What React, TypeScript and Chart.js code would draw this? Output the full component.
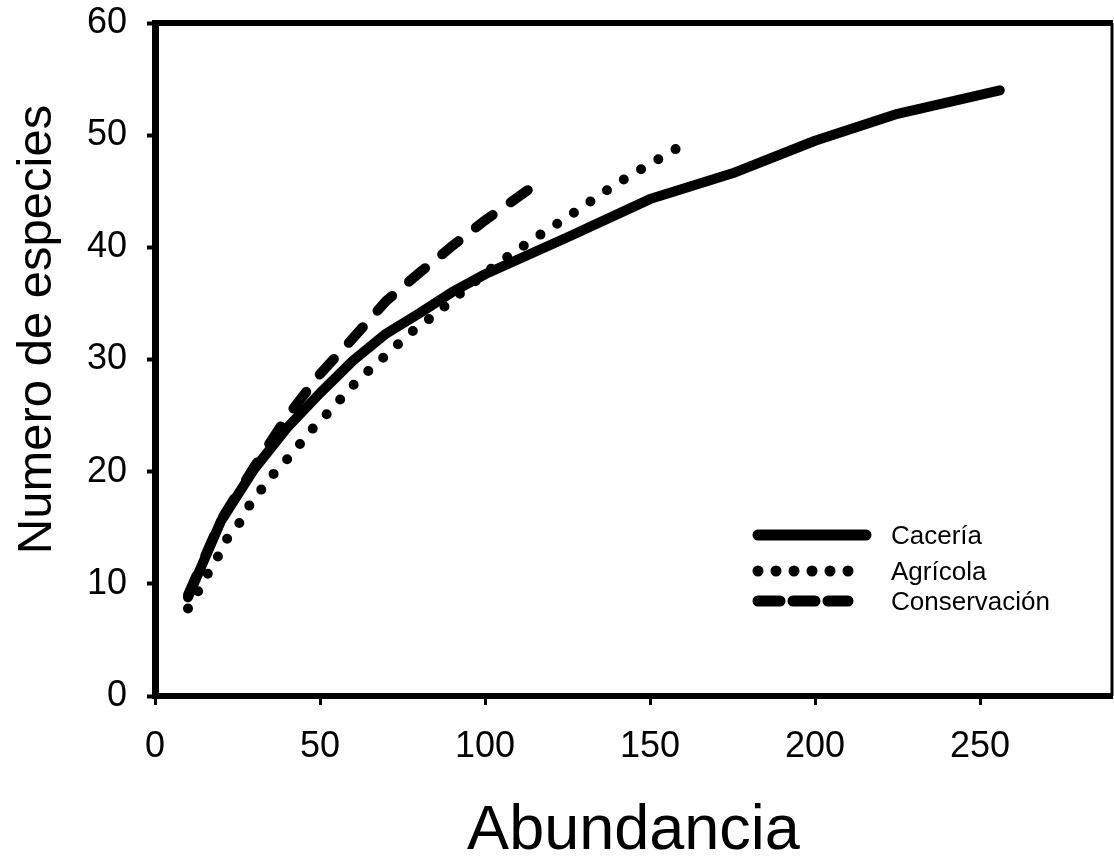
import React, { useEffect, useRef } from "react";
import { Chart, registerables } from "chart.js";

Chart.register(...registerables);

// ---- data ----
const caceriaX = [10, 20, 30, 40, 50, 60, 70, 80, 90, 100, 125, 150, 175, 200, 225, 256];
const caceriaY = [8.8, 15.6, 20.2, 23.9, 27.0, 29.9, 32.3, 34.1, 36.0, 37.6, 40.9, 44.3, 46.6, 49.5, 51.9, 54.0];

const agricolaX = [10, 13, 16, 19, 22, 26, 29, 33, 37, 42, 46, 51, 56, 61, 67, 72, 77, 83, 93, 104, 114, 125, 140, 158];
const agricolaY = [7.8, 9.3, 10.9, 12.4, 14.1, 15.6, 17.2, 18.7, 20.2, 21.7, 23.3, 24.8, 26.4, 28.0, 29.6, 30.9, 32.3, 33.6, 36.0, 38.6, 40.6, 42.7, 45.7, 48.8];

const conservacionX = [10, 20, 30, 40, 50, 60, 70, 80, 90, 100, 113];
const conservacionY = [9.0, 15.7, 20.4, 24.9, 28.7, 31.9, 35.2, 37.7, 40.1, 42.4, 45.1];

const seriesLabels = ["Cacería", "Agrícola", "Conservación"];
const xTicks = [0, 50, 100, 150, 200, 250];
const yTicks = [0, 10, 20, 30, 40, 50, 60];
const xTitle = "Abundancia";
const yTitle = "Numero de especies";

const FONT = "'Liberation Sans', Arial, Helvetica, sans-serif";

const toPts = (xs: number[], ys: number[]) => xs.map((x, i) => ({ x, y: ys[i] }));

const decorPlugin = {
  id: "decor",
  afterDatasetsDraw(chart: any) {
    const { ctx, chartArea: a } = chart;
    ctx.save();
    ctx.strokeStyle = "#000";
    ctx.fillStyle = "#000";
    // top and right frame
    ctx.lineCap = "butt";
    ctx.setLineDash([]);
    ctx.lineWidth = 6;
    ctx.beginPath();
    ctx.moveTo(a.left - 3, a.top);
    ctx.lineTo(a.right + 1, a.top);
    ctx.stroke();
    ctx.lineWidth = 3;
    ctx.beginPath();
    ctx.moveTo(a.right, a.top);
    ctx.lineTo(a.right, a.bottom);
    ctx.stroke();

    // legend
    const lx0 = 758;
    const lx1 = 866;
    const rows = [535, 571, 601];
    const styles = [
      { dash: [] as number[], end: lx1, w: 11 },
      { dash: [0, 18], end: 850, w: 11 },
      { dash: [22, 13], end: 848, w: 11 },
    ];
    ctx.lineCap = "round";
    rows.forEach((y, i) => {
      const s = styles[i];
      ctx.lineWidth = s.w;
      ctx.setLineDash(s.dash);
      ctx.beginPath();
      ctx.moveTo(lx0, y);
      ctx.lineTo(s.end, y);
      ctx.stroke();
      ctx.setLineDash([]);
      ctx.font = `26px ${FONT}`;
      ctx.textAlign = "left";
      ctx.textBaseline = "middle";
      ctx.fillText(seriesLabels[i], 891, y + 2);
    });

    // axis titles
    ctx.font = `63px ${FONT}`;
    ctx.textAlign = "center";
    ctx.textBaseline = "alphabetic";
    ctx.fillText(xTitle, (a.left + a.right) / 2, chart.height - 8);

    ctx.save();
    ctx.font = `49px ${FONT}`;
    ctx.translate(51, (a.top + a.bottom) / 2 - 30);
    ctx.rotate(-Math.PI / 2);
    ctx.fillText(yTitle, 0, 0);
    ctx.restore();

    ctx.restore();
  },
};

export default function App() {
  const ref = useRef<HTMLCanvasElement | null>(null);

  useEffect(() => {
    document.body.style.margin = "0";
    const canvas = ref.current;
    if (!canvas) return;
    const tickFont = { family: FONT, size: 36 };
    const chart = new Chart(canvas, {
      type: "line",
      data: {
        datasets: [
          {
            label: seriesLabels[0],
            data: toPts(caceriaX, caceriaY),
            borderColor: "#000",
            borderWidth: 10,
            borderCapStyle: "round",
            borderJoinStyle: "round",
            pointRadius: 0,
            tension: 0,
            fill: false,
          },
          {
            label: seriesLabels[1],
            data: toPts(agricolaX, agricolaY),
            borderColor: "#000",
            borderWidth: 10,
            borderDash: [0, 20],
            borderCapStyle: "round",
            borderJoinStyle: "round",
            pointRadius: 0,
            tension: 0,
            fill: false,
          },
          {
            label: seriesLabels[2],
            data: toPts(conservacionX, conservacionY),
            borderColor: "#000",
            borderWidth: 10,
            borderDash: [21, 22],
            borderCapStyle: "round",
            borderJoinStyle: "round",
            pointRadius: 0,
            tension: 0,
            fill: false,
          },
        ],
      },
      options: {
        responsive: false,
        animation: false,
        devicePixelRatio: 1,
        layout: { padding: { top: 23, right: 2, left: 0, bottom: 0 } },
        plugins: { legend: { display: false }, tooltip: { enabled: false } },
        scales: {
          x: {
            type: "linear",
            min: 0,
            max: 290,
            afterBuildTicks: (s: any) => {
              s.ticks = xTicks.map((v) => ({ value: v }));
            },
            afterFit: (s: any) => {
              s.height = 161;
              s.paddingLeft = 0;
              s.paddingRight = 0;
            },
            grid: {
              display: true,
              drawOnChartArea: false,
              drawTicks: true,
              tickLength: 9,
              tickWidth: 3,
              tickColor: "#000",
            },
            border: { display: true, width: 6, color: "#000" },
            ticks: { font: tickFont, color: "#000", padding: 20, maxRotation: 0, autoSkip: false },
          },
          y: {
            type: "linear",
            min: 0,
            max: 60,
            afterBuildTicks: (s: any) => {
              s.ticks = yTicks.map((v) => ({ value: v }));
            },
            afterFit: (s: any) => {
              s.width = 155;
              s.paddingTop = 0;
              s.paddingBottom = 0;
            },
            grid: {
              display: true,
              drawOnChartArea: false,
              drawTicks: true,
              tickLength: 8,
              tickWidth: 4,
              tickColor: "#000",
            },
            border: { display: true, width: 7, color: "#000" },
            ticks: { font: tickFont, color: "#000", padding: 20, autoSkip: false },
          },
        },
      },
      plugins: [decorPlugin],
    } as any);
    return () => chart.destroy();
  }, []);

  return (
    <div style={{ width: 1114, height: 857, position: "relative", background: "#fff" }}>
      <canvas ref={ref} width={1114} height={857} />
    </div>
  );
}
